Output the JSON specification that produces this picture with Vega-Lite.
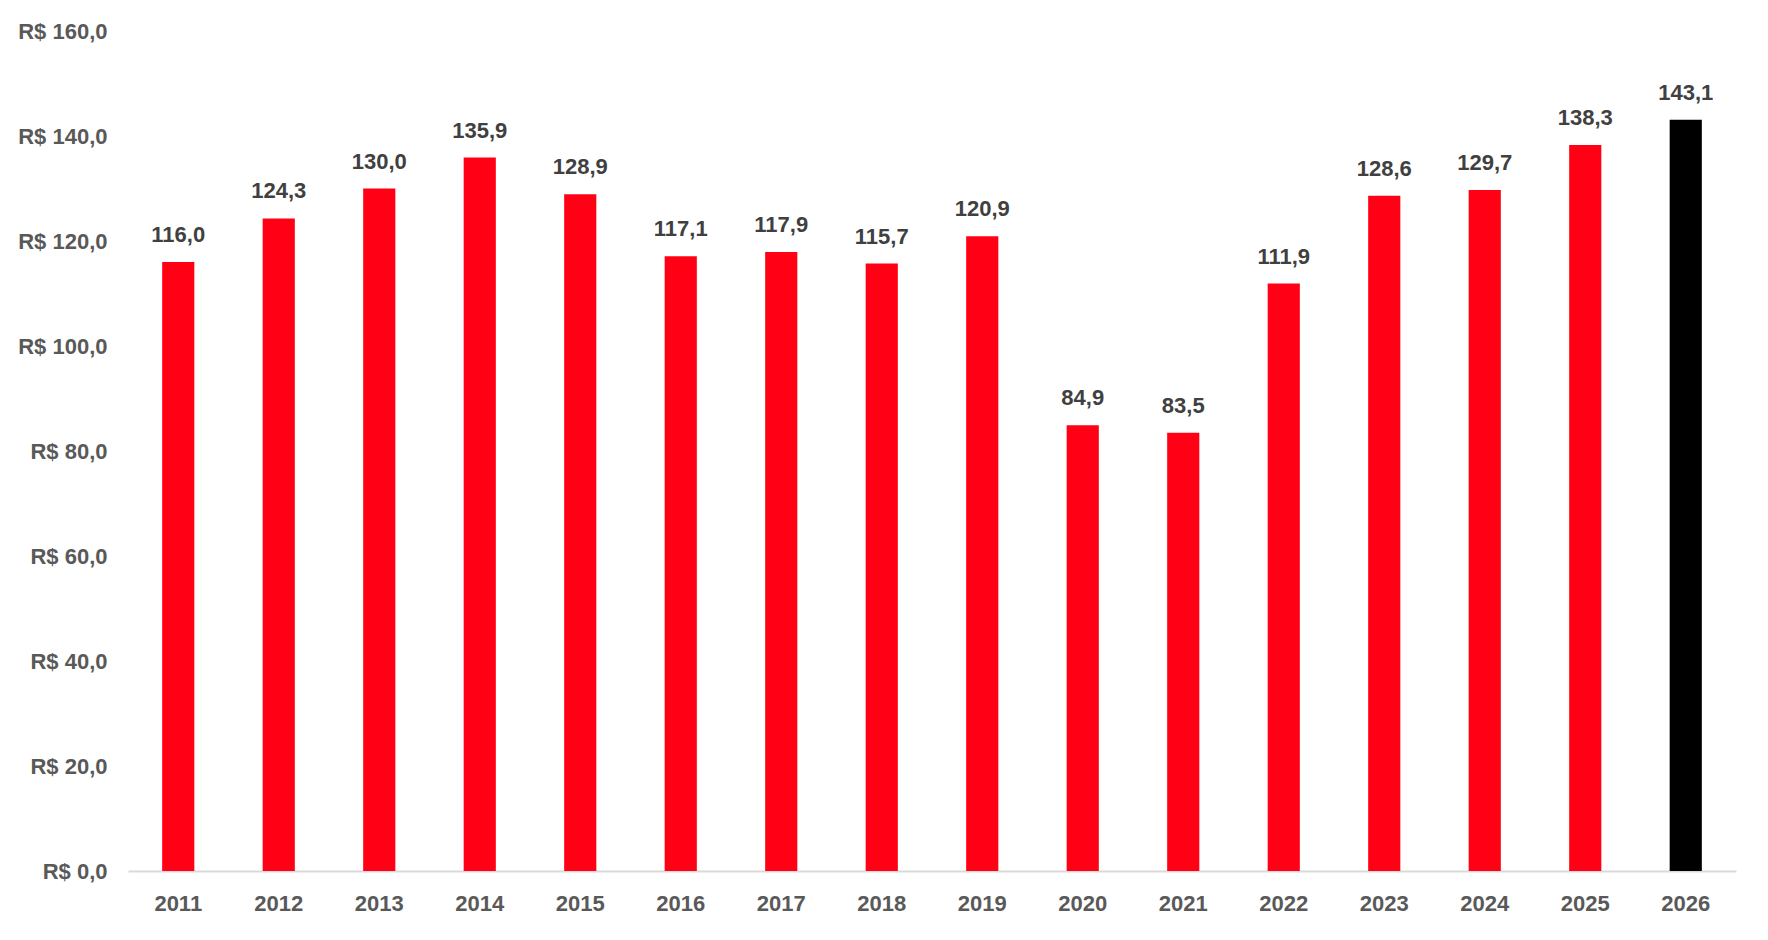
{
  "$schema": "https://vega.github.io/schema/vega-lite/v6.json",
  "width": 1608,
  "height": 840,
  "autosize": {"type": "none"},
  "padding": {"left": 128, "top": 31, "right": 32, "bottom": 69},
  "background": "#ffffff",
  "data": {
    "values": [
      {"ano": "2011", "valor": 116.0, "serie": "realizado"},
      {"ano": "2012", "valor": 124.3, "serie": "realizado"},
      {"ano": "2013", "valor": 130.0, "serie": "realizado"},
      {"ano": "2014", "valor": 135.9, "serie": "realizado"},
      {"ano": "2015", "valor": 128.9, "serie": "realizado"},
      {"ano": "2016", "valor": 117.1, "serie": "realizado"},
      {"ano": "2017", "valor": 117.9, "serie": "realizado"},
      {"ano": "2018", "valor": 115.7, "serie": "realizado"},
      {"ano": "2019", "valor": 120.9, "serie": "realizado"},
      {"ano": "2020", "valor": 84.9, "serie": "realizado"},
      {"ano": "2021", "valor": 83.5, "serie": "realizado"},
      {"ano": "2022", "valor": 111.9, "serie": "realizado"},
      {"ano": "2023", "valor": 128.6, "serie": "realizado"},
      {"ano": "2024", "valor": 129.7, "serie": "realizado"},
      {"ano": "2025", "valor": 138.3, "serie": "realizado"},
      {"ano": "2026", "valor": 143.1, "serie": "projecao"}
    ]
  },
  "encoding": {
    "x": {
      "field": "ano",
      "type": "ordinal",
      "title": null,
      "scale": {"paddingInner": 0.68, "paddingOuter": 0.34},
      "axis": {
        "labelAngle": 0,
        "ticks": false,
        "domainColor": "#d9d9d9",
        "domainWidth": 2,
        "labelPadding": 22,
        "labelFont": "Liberation Sans, Arial",
        "labelFontWeight": "bold",
        "labelFontSize": 22,
        "labelColor": "#595959"
      }
    },
    "y": {
      "field": "valor",
      "type": "quantitative",
      "title": null,
      "scale": {"domain": [0, 160], "nice": false},
      "axis": {
        "values": [0, 20, 40, 60, 80, 100, 120, 140, 160],
        "format": "$.1f",
        "grid": false,
        "domain": false,
        "ticks": false,
        "labelPadding": 21,
        "labelFont": "Liberation Sans, Arial",
        "labelFontWeight": "bold",
        "labelFontSize": 22,
        "labelColor": "#595959"
      }
    }
  },
  "layer": [
    {
      "mark": {"type": "bar"},
      "encoding": {
        "color": {
          "field": "serie",
          "type": "nominal",
          "legend": null,
          "scale": {"domain": ["realizado", "projecao"], "range": ["#ff0014", "#000000"]}
        }
      }
    },
    {
      "mark": {
        "type": "text",
        "baseline": "alphabetic",
        "dy": -20,
        "font": "Liberation Sans, Arial",
        "fontWeight": "bold",
        "fontSize": 22,
        "color": "#404040"
      },
      "encoding": {
        "text": {"field": "valor", "type": "quantitative", "format": ".1f"}
      }
    }
  ],
  "config": {
    "view": {"stroke": null},
    "locale": {
      "number": {
        "decimal": ",",
        "thousands": ".",
        "grouping": [3],
        "currency": ["R$ ", ""]
      }
    }
  }
}
